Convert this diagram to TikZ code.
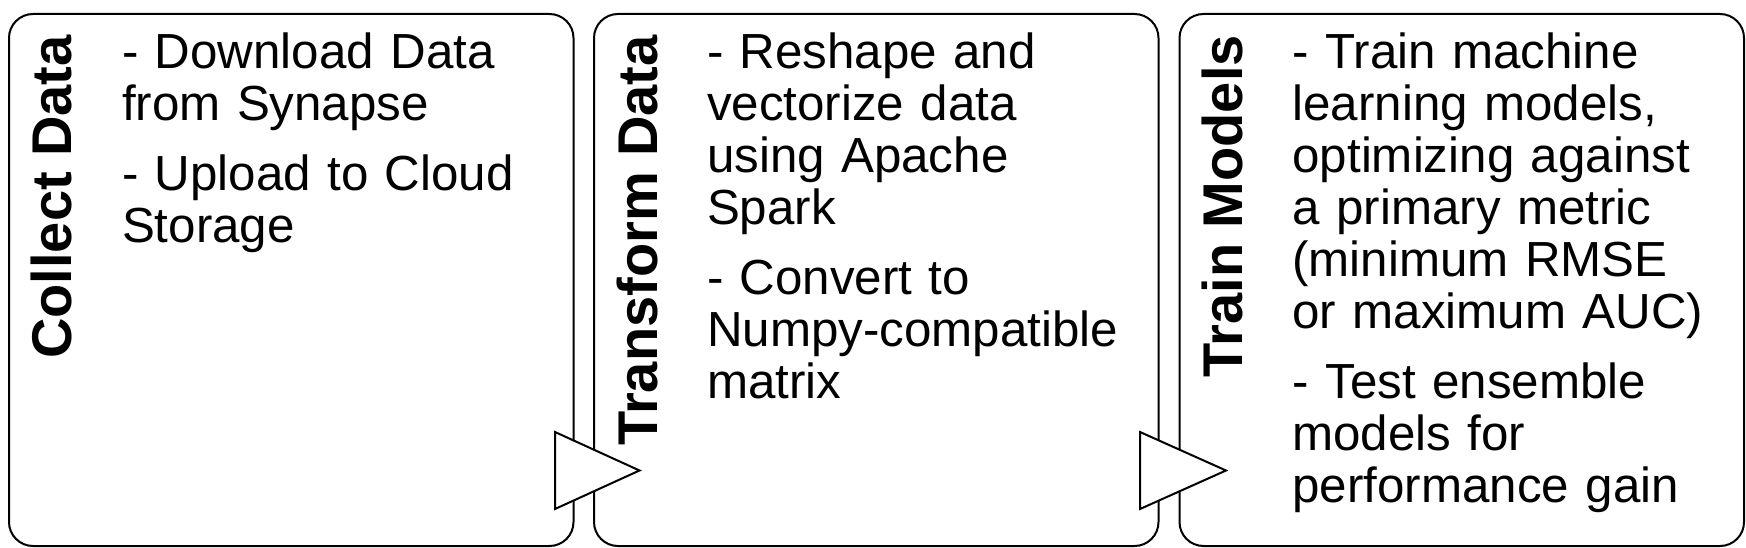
\documentclass[tikz,border=0pt]{standalone}
\usepackage{fontspec}
\setmainfont{Liberation Sans}
\begin{document}
\begin{tikzpicture}[x=1pt,y=-1pt,
  stage/.style={draw=black, line width=2pt, fill=white, rounded corners=24pt,
    minimum width=564.5pt, minimum height=532pt, inner sep=0pt, outer sep=0pt, anchor=north west},
  title/.style={rotate=90, anchor=base east, inner sep=0pt,
    font=\fontsize{56}{60}\selectfont\bfseries},
  body/.style={anchor=base west, inner sep=0pt, text width=445pt, align=left,
    font=\fontsize{49.3}{52}\selectfont},
  arrowtri/.style={draw=black, line width=2pt, fill=white, line join=miter}
]
\useasboundingbox (0,0) rectangle (1746,548);

\node[stage] (b1) at (9,14) {};
\node[stage] (b2) at (594,14) {};
\node[stage] (b3) at (1179.5,14) {};

\node[title] (t1) at ([xshift=62pt,yshift=-21pt]b1.north west) {Collect Data};
\node[title] (t2) at ([xshift=63pt,yshift=-21pt]b2.north west) {Transform Data};
\node[title] (t3) at ([xshift=62.5pt,yshift=-21pt]b3.north west) {Train Models};

\node[body] (x1) at ([xshift=112.8pt,yshift=-54.5pt]b1.north west)
  {- Download Data\\from Synapse\\[18.5pt]- Upload to Cloud\\Storage};
\node[body] (x2) at ([xshift=112.8pt,yshift=-54.5pt]b2.north west)
  {- Reshape and\\vectorize data\\using Apache\\Spark\\[18.5pt]- Convert to\\Numpy-compatible\\matrix};
\node[body] (x3) at ([xshift=112.8pt,yshift=-54.5pt]b3.north west)
  {- Train machine\\learning models,\\optimizing against\\a primary metric\\(minimum RMSE\\or maximum AUC)\\[18.5pt]- Test ensemble\\models for\\performance gain};

\coordinate (a1) at (555,432);
\coordinate (a1b) at (555,509);
\coordinate (a1t) at (639.5,470.5);
\draw[arrowtri] (a1) -- (a1t) -- (a1b) -- cycle;
\coordinate (a2) at (1140,432);
\coordinate (a2b) at (1140,509);
\coordinate (a2t) at (1226,470.5);
\draw[arrowtri] (a2) -- (a2t) -- (a2b) -- cycle;
\end{tikzpicture}
\end{document}
